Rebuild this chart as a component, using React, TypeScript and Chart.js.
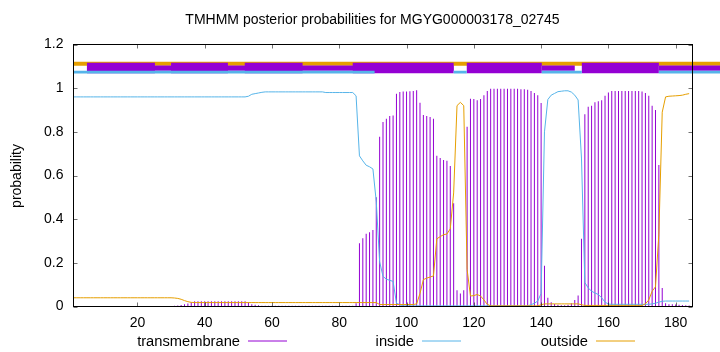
import React, { useEffect, useRef } from "react";
import { Chart, registerables } from "chart.js";

Chart.register(...registerables);

const TITLE = "TMHMM posterior probabilities for MGYG000003178_02745";
const Y_LABEL = "probability";
const SERIES_NAMES = ["transmembrane", "inside", "outside"];
const X_TICKS = [20, 40, 60, 80, 100, 120, 140, 160, 180];
const Y_TICKS = [0, 0.2, 0.4, 0.6, 0.8, 1, 1.2];
const X_MIN = 1;
const X_MAX = 185;

// posterior probability per residue position (1..184)
const TRANSMEMBRANE = [
  0, 0, 0, 0, 0, 0, 0, 0, 0, 0, 0, 0, 0, 0, 0, 0, 0, 0, 0, 0,
  0, 0, 0, 0, 0, 0, 0, 0, 0, 0,
  0.004, 0.005, 0.007, 0.01, 0.014, 0.019,
  0.024, 0.024, 0.024, 0.024, 0.024, 0.024, 0.024, 0.024, 0.024, 0.024, 0.024, 0.024, 0.024, 0.024, 0.024, 0.024,
  0.02, 0.01, 0.008, 0.006,
  0.003, 0.003, 0.003, 0.003, 0.003, 0.003, 0.003, 0.003, 0.003, 0.003, 0.003, 0.003, 0.003, 0.003,
  0.003, 0.003, 0.003, 0.003, 0.003, 0.003, 0.003, 0.003, 0.003, 0.003, 0.003, 0.003, 0.003, 0.003,
  0.015, 0.29, 0.313, 0.333, 0.34, 0.35, 0.5, 0.777, 0.845, 0.86, 0.872, 0.875,
  0.975, 0.983, 0.985, 0.985, 0.986, 0.987, 0.99,
  0.933, 0.877, 0.872, 0.868, 0.86, 0.69, 0.68, 0.671, 0.668, 0.644, 0.473, 0.074, 0.06, 0.074, 0.823,
  0.952, 0.95, 0.945, 0.95, 0.967, 0.987,
  0.997, 0.997, 0.997, 0.997, 0.997, 0.997, 0.997, 0.997, 0.997,
  0.995, 0.995, 0.993, 0.987, 0.978, 0.967, 0.932,
  0.187, 0.04, 0.02, 0.012, 0.008, 0.006, 0.006, 0.008, 0.015, 0.03, 0.05,
  0.31, 0.88, 0.915, 0.92, 0.935, 0.94, 0.945, 0.965, 0.98,
  0.987, 0.987, 0.987, 0.987, 0.987, 0.987, 0.987, 0.987, 0.987,
  0.985, 0.978, 0.965, 0.92, 0.9, 0.648, 0.085, 0.015,
  0.01, 0.01, 0.009, 0.008, 0.007, 0.006, 0.005,
];

const INSIDE = [
  0.96, 0.96, 0.96, 0.96, 0.96, 0.96, 0.96, 0.96, 0.96, 0.96, 0.96, 0.96, 0.96,
  0.96, 0.96, 0.96, 0.96, 0.96, 0.96, 0.96, 0.96, 0.96, 0.96, 0.96, 0.96, 0.96,
  0.96, 0.96, 0.96, 0.96, 0.96, 0.96, 0.96, 0.96, 0.96, 0.96, 0.96, 0.96, 0.96,
  0.96, 0.96, 0.96, 0.96, 0.96, 0.96, 0.96, 0.96, 0.96, 0.96, 0.96, 0.96, 0.96,
  0.963, 0.972, 0.975, 0.978, 0.981,
  0.983, 0.983, 0.983, 0.983, 0.983, 0.983, 0.983, 0.983, 0.983,
  0.983, 0.983, 0.983, 0.983, 0.983, 0.983, 0.983, 0.983, 0.983,
  0.98, 0.98, 0.98, 0.98, 0.98, 0.98, 0.98, 0.98, 0.98,
  0.965, 0.69, 0.667, 0.647, 0.64, 0.63, 0.48, 0.205, 0.138, 0.125, 0.12, 0.115, 0.015, 0.008,
  0.003, 0.003, 0.003, 0.003, 0.003, 0.003, 0.003, 0.003, 0.003, 0.003, 0.003, 0.003, 0.003,
  0.003, 0.003, 0.003, 0.003, 0.003, 0.003, 0.003, 0.003, 0.003, 0.003, 0.003, 0.003, 0.003,
  0.003, 0.003, 0.003, 0.003, 0.003, 0.003, 0.003, 0.003, 0.003, 0.003, 0.003, 0.003,
  0.008, 0.015, 0.025, 0.06, 0.8, 0.948, 0.968, 0.976, 0.984, 0.986, 0.988, 0.988, 0.982, 0.968, 0.946, 0.68,
  0.11, 0.085, 0.07, 0.062, 0.055, 0.04, 0.02, 0.011,
  0.01, 0.01, 0.01, 0.01, 0.01, 0.01, 0.01, 0.01, 0.01, 0.01, 0.01, 0.01,
  0.012, 0.015, 0.02, 0.024,
  0.025, 0.025, 0.025, 0.025, 0.025, 0.025, 0.025, 0.025,
];

const OUTSIDE = [
  0.04, 0.04, 0.04, 0.04, 0.04, 0.04, 0.04, 0.04, 0.04, 0.04, 0.04, 0.04, 0.04, 0.04, 0.04,
  0.04, 0.04, 0.04, 0.04, 0.04, 0.04, 0.04, 0.04, 0.04, 0.04, 0.04, 0.04, 0.04, 0.04, 0.04,
  0.039, 0.037, 0.033, 0.027, 0.022, 0.019,
  0.018, 0.018, 0.018, 0.018, 0.018, 0.018, 0.018, 0.018, 0.018, 0.018, 0.018,
  0.018, 0.018, 0.018, 0.018, 0.018, 0.018, 0.018, 0.018, 0.018, 0.018, 0.018,
  0.018, 0.018, 0.018, 0.018, 0.018, 0.018, 0.018, 0.018, 0.018, 0.018, 0.018,
  0.018, 0.018, 0.018, 0.018, 0.018, 0.018, 0.018, 0.018, 0.018, 0.018, 0.018,
  0.018, 0.018, 0.018, 0.018, 0.018, 0.018, 0.018, 0.018, 0.018, 0.018, 0.018,
  0.009, 0.009, 0.009, 0.009, 0.009, 0.009, 0.009, 0.009, 0.009, 0.009, 0.009,
  0.012, 0.06, 0.123, 0.13, 0.135, 0.14, 0.31, 0.32, 0.329, 0.332, 0.356, 0.52,
  0.92, 0.935, 0.92, 0.17, 0.048, 0.05, 0.055, 0.048, 0.03, 0.01,
  0.003, 0.003, 0.003, 0.003, 0.003, 0.003, 0.003, 0.003, 0.003, 0.003, 0.003, 0.003, 0.003, 0.003, 0.003,
  0.008, 0.012, 0.012, 0.012, 0.012, 0.012, 0.012, 0.012, 0.012, 0.012, 0.012, 0.012, 0.008,
  0.005, 0.005, 0.005, 0.005, 0.005, 0.005, 0.005, 0.005, 0.005,
  0.005, 0.005, 0.005, 0.005, 0.005, 0.005, 0.005, 0.005, 0.005,
  0.012, 0.03, 0.07, 0.09, 0.33, 0.89, 0.96, 0.963, 0.964, 0.965, 0.966, 0.968, 0.972, 0.975,
];

// topology annotation strips above the plot: [from, to] in residue positions
const OUTSIDE_STRIP = [[1, 193.5]];
const TM_THIN_STRIP = [[5, 114], [140.2, 150], [175, 193.5]];
const TM_THICK_STRIP = [[5, 25.2], [30, 46.9], [51.9, 69.1], [84, 114], [117.9, 140.2], [152.1, 175]];
const INSIDE_STRIP = [[1, 90.5], [114, 117.9], [140.2, 152.1], [175, 193.5]];
const STRIP_LEVELS = { outside: 1.112, tmThick: 1.0924, tmThin: 1.0915, inside: 1.0733 };

const PURPLE = "#9400D3";
const BLUE = "#56B4E9";
const ORANGE = "#E69F00";
const FONT_FAMILY = '"Liberation Sans", Arial, Helvetica, sans-serif';

function stripData(segs: number[][], y: number) {
  const out: { x: number; y: number | null }[] = [];
  segs.forEach(([a, b], i) => {
    if (i > 0) out.push({ x: (segs[i - 1][1] + a) / 2, y: null });
    out.push({ x: a, y }, { x: b, y });
  });
  return out;
}

function stripDataset(segs: number[][], y: number, color: string, width: number, order: number) {
  return {
    type: "line" as const,
    data: stripData(segs, y),
    borderColor: color,
    backgroundColor: color,
    borderWidth: width,
    borderCapStyle: "butt" as const,
    pointRadius: 0,
    pointHoverRadius: 0,
    spanGaps: false,
    tension: 0,
    fill: false,
    clip: false as any,
    order,
  };
}

const decorPlugin = {
  id: "decor",
  afterDatasetsDraw(chart: any) {
    const { ctx, chartArea: a, scales } = chart;
    ctx.save();
    // inward tick marks on all four sides
    ctx.strokeStyle = "rgba(0,0,0,0.55)";
    ctx.lineWidth = 1;
    ctx.beginPath();
    X_TICKS.forEach((v) => {
      const px = Math.round(scales.x.getPixelForValue(v)) + 0.5;
      ctx.moveTo(px, a.bottom);
      ctx.lineTo(px, a.bottom - 4);
      ctx.moveTo(px, a.top);
      ctx.lineTo(px, a.top + 4);
    });
    Y_TICKS.forEach((v) => {
      const py = Math.round(scales.y.getPixelForValue(v)) + 0.5;
      ctx.moveTo(a.left, py);
      ctx.lineTo(a.left + 4, py);
      ctx.moveTo(a.right, py);
      ctx.lineTo(a.right - 4, py);
    });
    ctx.stroke();
    // border
    ctx.strokeStyle = "#000";
    ctx.strokeRect(a.left, a.top, a.right - a.left, a.bottom - a.top);

    // y-axis label
    ctx.fillStyle = "#000";
    ctx.font = `14px ${FONT_FAMILY}`;
    ctx.save();
    ctx.translate(17, 176);
    ctx.rotate(-Math.PI / 2);
    ctx.textAlign = "center";
    ctx.textBaseline = "middle";
    ctx.fillText(Y_LABEL, 0, 0);
    ctx.restore();

    // legend: text right-aligned, then a line sample
    const colors = [PURPLE, BLUE, ORANGE];
    const sampleStarts = [248, 422, 596];
    ctx.font = `14.7px ${FONT_FAMILY}`;
    ctx.textAlign = "right";
    ctx.textBaseline = "alphabetic";
    SERIES_NAMES.forEach((name, i) => {
      const sx = sampleStarts[i];
      ctx.fillStyle = "#000";
      ctx.fillText(name, sx - 8, 346);
      ctx.strokeStyle = colors[i];
      ctx.lineWidth = 1;
      ctx.beginPath();
      ctx.moveTo(sx, 341);
      ctx.lineTo(sx + 39, 341);
      ctx.stroke();
    });
    ctx.restore();
  },
};

export default function App() {
  const ref = useRef<HTMLCanvasElement | null>(null);

  useEffect(() => {
    if (!ref.current) return;
    const pos = (i: number) => i + 1;
    const chart = new Chart(ref.current, {
      type: "line",
      data: {
        datasets: [
          {
            type: "bar",
            label: SERIES_NAMES[0],
            data: TRANSMEMBRANE.map((v, i) => ({ x: pos(i), y: v })),
            backgroundColor: PURPLE,
            borderWidth: 0,
            barThickness: 1,
            inflateAmount: 0,
            grouped: false,
            order: 10,
          } as any,
          {
            type: "line",
            label: SERIES_NAMES[1],
            data: INSIDE.map((v, i) => ({ x: pos(i), y: v })),
            borderColor: BLUE,
            borderWidth: 1,
            pointRadius: 0,
            tension: 0,
            fill: false,
            order: 9,
          },
          {
            type: "line",
            label: SERIES_NAMES[2],
            data: OUTSIDE.map((v, i) => ({ x: pos(i), y: v })),
            borderColor: ORANGE,
            borderWidth: 1,
            pointRadius: 0,
            tension: 0,
            fill: false,
            order: 8,
          },
          stripDataset(OUTSIDE_STRIP, STRIP_LEVELS.outside, ORANGE, 4, 7),
          stripDataset(TM_THIN_STRIP, STRIP_LEVELS.tmThin, PURPLE, 5.3, 6),
          stripDataset(TM_THICK_STRIP, STRIP_LEVELS.tmThick, PURPLE, 10.5, 5),
          stripDataset(INSIDE_STRIP, STRIP_LEVELS.inside, BLUE, 2.7, 4),
        ] as any,
      },
      options: {
        responsive: false,
        animation: false,
        devicePixelRatio: 1,
        events: [],
        layout: { padding: { left: 25, right: 0, top: 0, bottom: 0 } },
        plugins: {
          legend: { display: false },
          tooltip: { enabled: false },
          title: {
            display: true,
            text: TITLE,
            color: "#000",
            font: { family: FONT_FAMILY, size: 14, weight: "normal" as any },
            padding: { top: 11.5, bottom: 16.2 },
          },
        },
        scales: {
          x: {
            type: "linear",
            min: X_MIN,
            max: X_MAX,
            offset: false,
            grid: { display: false, drawTicks: false },
            border: { display: false },
            ticks: {
              color: "#000",
              font: { family: FONT_FAMILY, size: 14 },
              padding: 8,
              maxRotation: 0,
              autoSkip: false,
              callback: (v: any) => String(v),
            },
            afterBuildTicks: (s: any) => {
              s.ticks = X_TICKS.map((value) => ({ value }));
            },
            afterFit: (s: any) => {
              s.height = 45.5;
            },
          },
          y: {
            type: "linear",
            position: "left",
            min: 0,
            max: 1.2,
            grid: { display: false, drawTicks: false },
            border: { display: false },
            ticks: {
              color: "#000",
              font: { family: FONT_FAMILY, size: 14 },
              padding: 10,
              callback: (v: any) => String(v),
            },
            afterBuildTicks: (s: any) => {
              s.ticks = Y_TICKS.map((value) => ({ value }));
            },
            afterFit: (s: any) => {
              s.width = 48.5;
            },
          },
          yRight: {
            type: "linear",
            position: "right",
            display: true,
            grid: { display: false, drawTicks: false },
            border: { display: false },
            ticks: { display: false },
            afterFit: (s: any) => {
              s.width = 27.5;
            },
          },
        },
      } as any,
      plugins: [decorPlugin],
    });
    return () => chart.destroy();
  }, []);

  return (
    <div style={{ position: "absolute", left: 0, top: 0, width: 720, height: 352, background: "#fff" }}>
      <canvas ref={ref} width={720} height={352} />
    </div>
  );
}
